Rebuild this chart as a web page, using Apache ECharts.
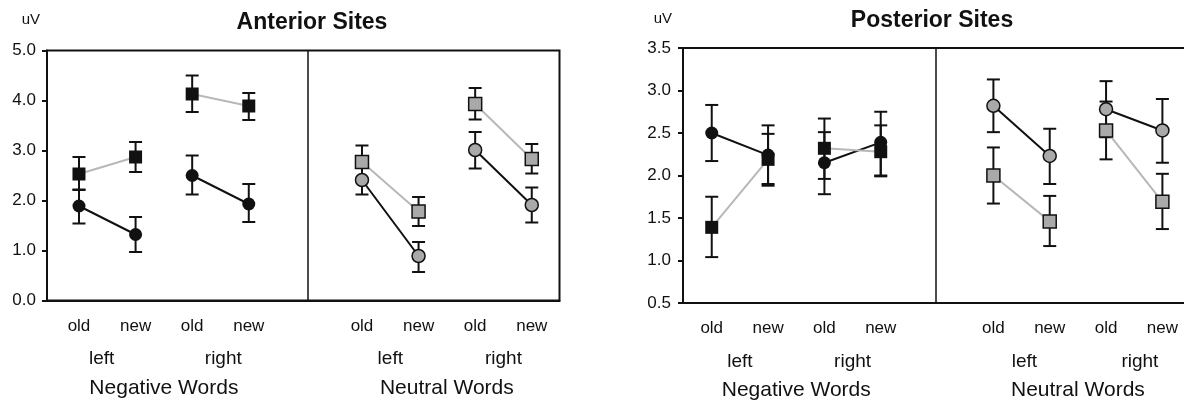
<!DOCTYPE html>
<html><head><meta charset="utf-8">
<script src="https://cdn.jsdelivr.net/npm/echarts@6/dist/echarts.min.js"></script>
<style>html,body{margin:0;padding:0;background:#fff}#c{width:1184px;height:403px}</style>
</head><body><div id="c"></div>
<script>
// ---- data ----
const slotX = [0, 1, 2, 3, 5, 6, 7, 8];
const conditionLabels = ['old', 'new', 'old', 'new', 'old', 'new', 'old', 'new'];
const hemiLabels = ['left', 'right', 'left', 'right'];
const wordTypeLabels = ['Negative Words', 'Neutral Words'];
const panelTitles = ['Anterior Sites', 'Posterior Sites'];

// Anterior sites (squares = grey-line series, circles = black-line series)
const antSquare     = [2.53, 2.87, 4.13, 3.89, 2.77, 1.78, 3.93, 2.83];
const antSquareLow  = [2.21, 2.57, 3.77, 3.61, 2.45, 1.49, 3.62, 2.54];
const antSquareHigh = [2.87, 3.17, 4.50, 4.15, 3.10, 2.07, 4.25, 3.13];
const antCircle     = [1.89, 1.32, 2.50, 1.93, 2.41, 0.89, 3.01, 1.91];
const antCircleLow  = [1.54, 0.97, 2.12, 1.57, 2.12, 0.57, 2.64, 1.56];
const antCircleHigh = [2.22, 1.67, 2.90, 2.33, 2.70, 1.17, 3.37, 2.26];

// Posterior sites
const postSquare     = [1.39, 2.19, 2.32, 2.28, 2.00, 1.46, 2.53, 1.69];
const postSquareLow  = [1.04, 1.88, 1.96, 1.99, 1.67, 1.17, 2.19, 1.37];
const postSquareHigh = [1.75, 2.49, 2.67, 2.59, 2.33, 1.76, 2.87, 2.02];
const postCircle     = [2.50, 2.24, 2.15, 2.39, 2.82, 2.23, 2.78, 2.53];
const postCircleLow  = [2.17, 1.90, 1.78, 2.00, 2.51, 1.90, 2.45, 2.15];
const postCircleHigh = [2.83, 2.59, 2.51, 2.75, 3.13, 2.55, 3.11, 2.90];

// ---- styling / layout ----
const FONT = '"Liberation Sans", Arial, Helvetica, sans-serif';
const INK = '#111';
const GREY_FILL = '#a9a9a9';
const GREY_LINE = '#b8b8b8';

const panels = [
  { grid: {left: 47, top: 50.5, width: 512.5, height: 250},
    xMin: -0.565, xMax: 8.49, yMin: 0, yMax: 5, yInt: 1, divider: 4.05,
    hemiPos: [0.4, 2.55, 5.5, 7.5], wordPos: [1.5, 6.5],
    m: [17.5, 48.5, 77.5], yMargin: 11, nameGap: 23, namePad: 7,
    sq: antSquare, sqLo: antSquareLow, sqHi: antSquareHigh,
    ci: antCircle, ciLo: antCircleLow, ciHi: antCircleHigh },
  { grid: {left: 683, top: 48, width: 507, height: 255},
    xMin: -0.51, xMax: 8.49, yMin: 0.5, yMax: 3.5, yInt: 0.5, divider: 3.97,
    hemiPos: [0.5, 2.5, 5.55, 7.6], wordPos: [1.5, 6.5],
    m: [16.5, 49.5, 76.5], yMargin: 12, nameGap: 22, namePad: 11,
    sq: postSquare, sqLo: postSquareLow, sqHi: postSquareHigh,
    ci: postCircle, ciLo: postCircleLow, ciHi: postCircleHigh }
];

function renderErr(params, api) {
  const x = api.value(0);
  const lo = api.coord([x, api.value(1)]);
  const hi = api.coord([x, api.value(2)]);
  const w = 6.5;
  const style = {stroke: INK, lineWidth: 2, fill: null};
  return {type: 'group', children: [
    {type: 'line', shape: {x1: lo[0], y1: lo[1], x2: hi[0], y2: hi[1]}, style: style},
    {type: 'line', shape: {x1: lo[0] - w, y1: lo[1], x2: lo[0] + w, y2: lo[1]}, style: style},
    {type: 'line', shape: {x1: hi[0] - w, y1: hi[1], x2: hi[0] + w, y2: hi[1]}, style: style}
  ]};
}

const grids = [], xAxes = [], yAxes = [], series = [], titles = [];

panels.forEach((p, g) => {
  grids.push(Object.assign({show: true, borderColor: INK, borderWidth: 2,
    backgroundColor: 'transparent', containLabel: false, outerBoundsMode: 'none'}, p.grid));

  titles.push({text: panelTitles[g], left: (g === 0 ? 307 : 927), top: (g === 0 ? 6 : 4),
    textAlign: 'center',
    textStyle: {fontFamily: FONT, fontSize: 23, fontWeight: 'bold', color: INK}});

  const base = {type: 'value', gridIndex: g, min: p.xMin, max: p.xMax, position: 'bottom',
    splitLine: {show: false}, axisTick: {show: false}};
  xAxes.push(Object.assign({}, base, {
    axisLine: {show: true, onZero: false, lineStyle: {color: INK, width: 2}},
    axisLabel: {customValues: slotX, margin: p.m[0], fontFamily: FONT, fontSize: 17, color: INK,
      formatter: v => conditionLabels[slotX.indexOf(v)] || ''}
  }));
  xAxes.push(Object.assign({}, base, {
    axisLine: {show: false, onZero: false},
    axisLabel: {customValues: p.hemiPos, margin: p.m[1], fontFamily: FONT, fontSize: 19, color: INK,
      formatter: v => hemiLabels[p.hemiPos.indexOf(v)] || ''}
  }));
  xAxes.push(Object.assign({}, base, {
    axisLine: {show: false, onZero: false},
    axisLabel: {customValues: p.wordPos, margin: p.m[2], fontFamily: FONT, fontSize: 21, color: INK,
      formatter: v => wordTypeLabels[p.wordPos.indexOf(v)] || ''}
  }));

  yAxes.push({type: 'value', gridIndex: g, min: p.yMin, max: p.yMax, interval: p.yInt,
    position: 'left',
    name: 'uV', nameLocation: 'end', nameGap: p.nameGap,
    nameTextStyle: {fontFamily: FONT, fontSize: 15, color: INK, align: 'right', padding: [0, p.namePad, 0, 0]},
    axisLine: {show: true, onZero: false, lineStyle: {color: INK, width: 2}},
    axisTick: {show: true, length: 5, lineStyle: {color: INK, width: 2}},
    splitLine: {show: false},
    axisLabel: {margin: p.yMargin, fontFamily: FONT, fontSize: 17, color: INK,
      formatter: v => v.toFixed(1)}});

  const xi = g * 3;
  // error bars
  const errData = [];
  slotX.forEach((x, i) => {
    errData.push([x, p.sqLo[i], p.sqHi[i]]);
    errData.push([x, p.ciLo[i], p.ciHi[i]]);
  });
  series.push({type: 'custom', xAxisIndex: xi, yAxisIndex: g, renderItem: renderErr,
    encode: {x: 0, y: [1, 2]}, data: errData, z: 1, silent: true});

  function lineData(vals, w) {
    const d = [];
    for (let k = 0; k < 4; k++) {
      const i = w * 4 + k;
      d.push([slotX[i], vals[i]]);
      if (k === 1) d.push([slotX[i] + 0.5, '-']);
    }
    return d;
  }
  function mk(kind, w) {
    const isSq = kind === 'sq';
    return {type: 'line', xAxisIndex: xi, yAxisIndex: g,
      data: lineData(isSq ? p.sq : p.ci, w),
      connectNulls: false, showSymbol: true, showAllSymbol: true,
      symbol: isSq ? 'rect' : 'circle', symbolSize: 13,
      itemStyle: {color: w === 0 ? INK : GREY_FILL, borderColor: INK, borderWidth: w === 0 ? 0 : 1.5},
      lineStyle: {color: isSq ? GREY_LINE : INK, width: 2},
      emphasis: {disabled: true}, silent: true, z: 3};
  }
  // negative words: squares over circles; neutral words: circles over squares
  series.push(mk('ci', 0));
  series.push(mk('sq', 0));
  const sqN = mk('sq', 1);
  sqN.markLine = {silent: true, symbol: ['none', 'none'], label: {show: false},
    lineStyle: {color: INK, width: 1.5, type: 'solid'},
    data: [[{coord: [p.divider, p.yMax]}, {coord: [p.divider, p.yMin]}]]};
  series.push(sqN);
  series.push(mk('ci', 1));
});

const chart = echarts.init(document.getElementById('c'), null, {renderer: 'canvas'});
chart.setOption({
  animation: false,
  backgroundColor: '#fff',
  textStyle: {fontFamily: FONT},
  title: titles,
  grid: grids,
  xAxis: xAxes,
  yAxis: yAxes,
  series: series
});
</script>
</body></html>
